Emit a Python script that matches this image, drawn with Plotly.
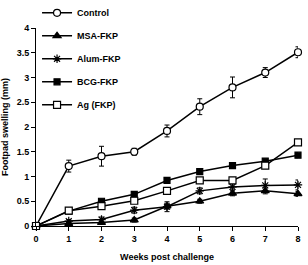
import plotly.graph_objects as go

weeks = [0, 1, 2, 3, 4, 5, 6, 7, 8]

control = [0, 1.21, 1.41, 1.5, 1.92, 2.41, 2.8, 3.1, 3.51]
control_err = [0, 0.12, 0.2, 0.07, 0.12, 0.16, 0.21, 0.1, 0.11]

msa = [0, 0.05, 0.07, 0.12, 0.4, 0.5, 0.66, 0.71, 0.65]
msa_err = [0, 0.03, 0.03, 0.04, 0.06, 0.04, 0.05, 0.06, 0.05]

alum = [0, 0.1, 0.13, 0.32, 0.39, 0.71, 0.79, 0.82, 0.83]
alum_err = [0, 0.03, 0.05, 0.06, 0.1, 0.06, 0.06, 0.13, 0.1]

bcg = [0, 0.3, 0.5, 0.64, 0.92, 1.1, 1.22, 1.31, 1.43]
bcg_err = [0, 0.03, 0.04, 0.04, 0.04, 0.04, 0.04, 0.04, 0.05]

ag = [0, 0.31, 0.4, 0.51, 0.71, 0.92, 0.92, 1.22, 1.69]
ag_err = [0, 0.03, 0.03, 0.03, 0.04, 0.04, 0.04, 0.04, 0.04]

series = [
    ("Control", control, control_err, "circle", 7, "white"),
    ("MSA-FKP", msa, msa_err, "triangle-up", 7, "black"),
    ("Alum-FKP", alum, alum_err, "asterisk-open", 7, "black"),
    ("BCG-FKP", bcg, bcg_err, "square", 6, "black"),
    ("Ag (FKP)", ag, ag_err, "square", 7, "white"),
]

fig = go.Figure()
for i, (name, vals, err, sym, size, fill) in enumerate(series):
    fig.add_trace(go.Scatter(
        x=weeks, y=vals, name=name, mode="lines+markers",
        legendgroup=f"g{i}",
        line=dict(color="black", width=1.5),
        marker=dict(symbol=sym, size=size, color=fill,
                    line=dict(color="black", width=1.2)),
        error_y=dict(type="data", array=err, visible=True, color="black",
                     thickness=1, width=2.5),
        cliponaxis=False,
    ))

fig.update_layout(
    width=308, height=265,
    margin=dict(l=36, r=10, t=28, b=39, autoexpand=False),
    paper_bgcolor="white", plot_bgcolor="white",
    font=dict(family="Liberation Sans, Arial, sans-serif", size=9, color="black"),
    showlegend=True,
    legend=dict(x=0.004, xanchor="left", y=1.15, yanchor="top",
                bgcolor="rgba(0,0,0,0)", itemwidth=30, tracegroupgap=4,
                font=dict(size=9, family="Liberation Sans, Arial, sans-serif", weight="bold")),
    xaxis=dict(range=[0, 8], tickmode="array", tickvals=weeks, automargin=False,
               showline=True, linecolor="black", linewidth=1,
               ticks="outside", ticklen=4, tickcolor="black",
               showgrid=False, zeroline=False,
               tickfont=dict(size=9, weight="bold"),
               title=dict(text="Weeks post challenge", font=dict(size=9, weight="bold"), standoff=10)),
    yaxis=dict(range=[0, 4], dtick=0.5, tick0=0, automargin=False,
               showline=True, linecolor="black", linewidth=1,
               ticks="outside", ticklen=4, tickcolor="black",
               showgrid=False, zeroline=False,
               tickfont=dict(size=9, weight="bold"),
               title=dict(text="Footpad swelling (mm)", font=dict(size=9, weight="bold"), standoff=6)),
)

fig.write_html("out.html")
